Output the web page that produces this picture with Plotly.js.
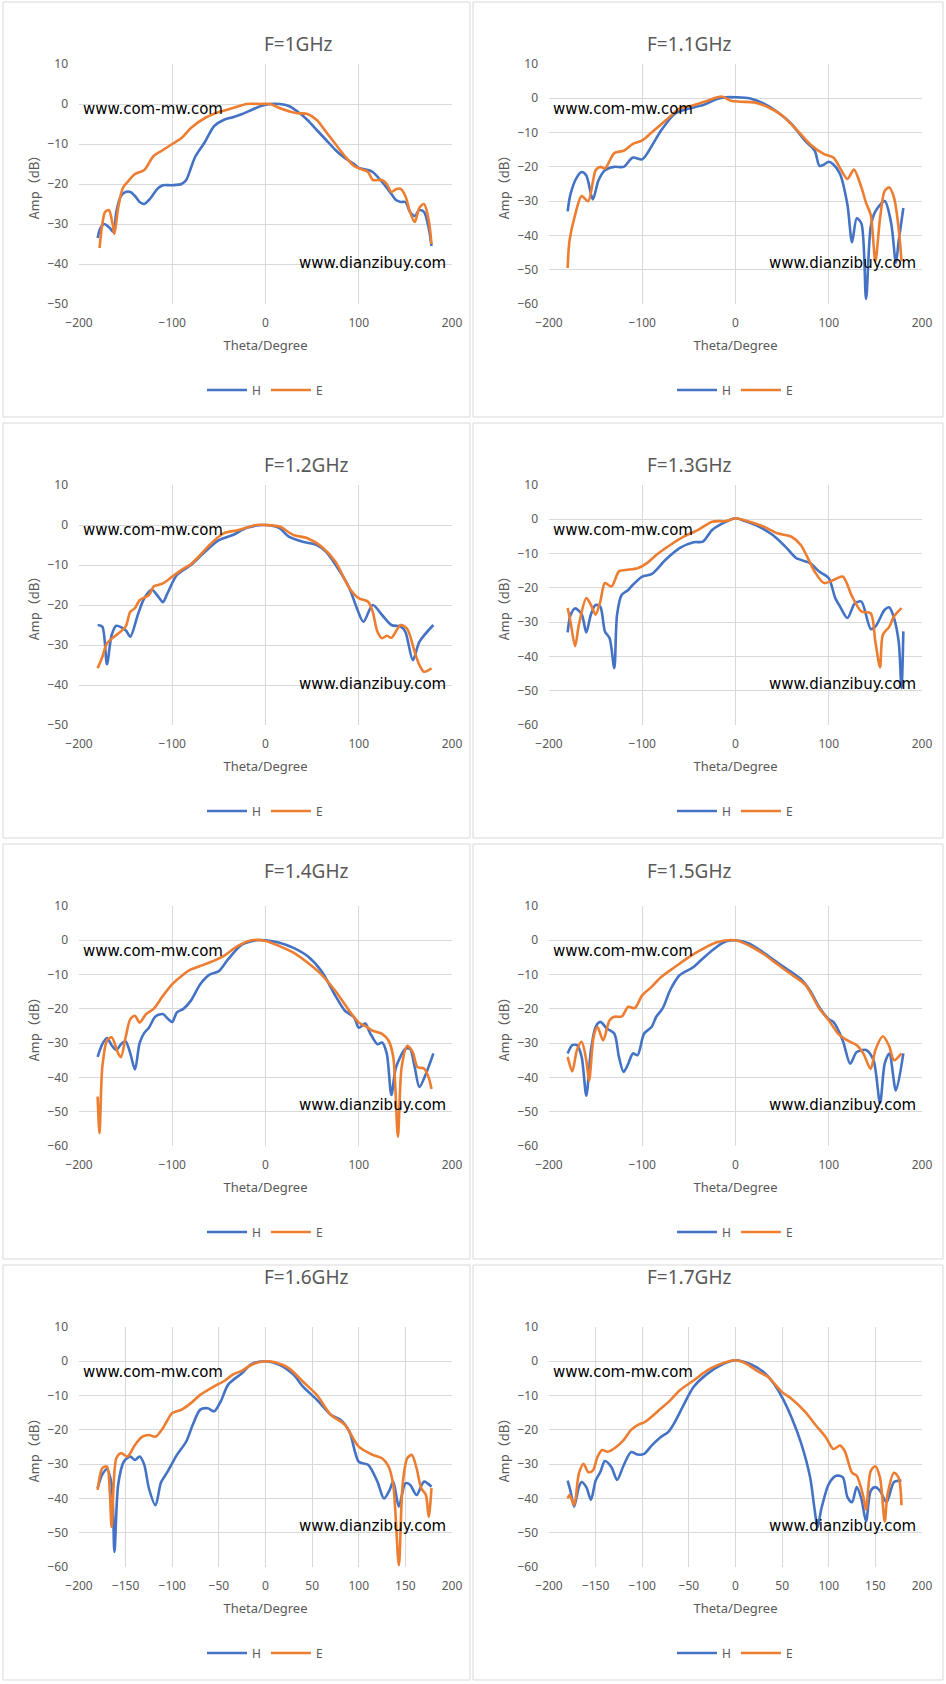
<!DOCTYPE html>
<html>
<head>
<meta charset="utf-8">
<script src="https://cdn.plot.ly/plotly-3.0.1.min.js"></script>
<style>body{margin:0;background:#fff}#plot{width:946px;height:1684px}</style>
</head>
<body>
<div id="plot"></div>
<script>
// panel titles and axis setup
const titles = ['F=1GHz', 'F=1.1GHz', 'F=1.2GHz', 'F=1.3GHz', 'F=1.4GHz', 'F=1.5GHz', 'F=1.6GHz', 'F=1.7GHz'];
const yMins = [-50, -60, -50, -60, -60, -60, -60, -60];
const xSteps = [100, 100, 100, 100, 100, 100, 50, 50];

// F=1GHz
const h1x = [-180,-177,-173,-167,-163,-160,-155,-150,-145,-140,-135,-130,-125,-115,-110,-100,-90,-85,-80,-75,-65,-55,-45,-35,-25,-15,-5,5,15,25,35,45,55,65,75,85,95,100,110,115,125,135,140,145,150,155,160,165,170,175,178];
const h1y = [-33.5,-31,-30,-31,-32,-27,-23,-22,-22,-23,-24.5,-25,-24,-21,-20.3,-20.3,-20,-19,-16,-13,-9.5,-5.5,-4,-3.3,-2.5,-1.5,-0.5,0,0,-0.5,-2,-4,-6.5,-9,-11.5,-13.5,-15,-16,-16.5,-17,-19.5,-22.5,-24,-24.5,-24.5,-27,-28,-26.5,-27,-31,-35.5];
const e1x = [-178,-175,-172,-168,-164,-162,-158,-153,-148,-140,-130,-120,-110,-100,-90,-80,-65,-50,-35,-20,-5,5,15,25,35,45,55,65,75,85,95,105,110,115,125,130,135,140,145,150,155,160,165,170,175,178];
const e1y = [-36,-30,-27,-26.5,-30,-32.5,-26,-21,-19.5,-17.5,-16.5,-13,-11.5,-10,-8.5,-6,-3.5,-2,-1,0,0,0,-1,-1.8,-2.3,-2.5,-4,-7,-10,-13,-15.5,-16.5,-17,-19,-19,-20,-22,-21.3,-21.2,-23,-27,-29.5,-26,-25,-29,-35];

// F=1.1GHz
const h2x = [-180,-177,-170,-165,-160,-153,-147,-140,-130,-120,-110,-100,-90,-80,-65,-50,-35,-20,-10,0,15,30,45,60,75,85,90,95,100,105,112,120,125,130,135,140,145,150,160,167,172,175,180];
const h2y = [-33,-28,-23,-21.5,-22.5,-29.5,-24,-21,-20,-20,-17.3,-17.8,-14,-9.5,-4.5,-3,-2,-0.2,0.3,0.3,0,-1.5,-4,-7.5,-12.5,-15.3,-19.7,-19.3,-18.5,-19.3,-22,-31,-42,-35,-36.5,-58.5,-37.5,-33,-30,-36.5,-48,-41.5,-32];
const e2x = [-180,-178,-172,-165,-158,-150,-145,-140,-130,-120,-110,-100,-90,-75,-60,-45,-30,-15,-5,5,20,35,50,65,80,95,105,112,120,127,135,140,145,150,155,160,165,170,175,178];
const e2y = [-49.5,-41.5,-34,-28.5,-30,-21,-20,-20.5,-16,-15.3,-13.3,-12.3,-10,-6.5,-3,-2,-0.7,0.5,-0.7,-1,-1.2,-2.6,-5,-9,-13.4,-16.3,-17.3,-20.3,-23.5,-20.8,-26,-30.5,-34,-47.5,-35,-27,-26,-29,-38,-47.5];

// F=1.2GHz
const h3x = [-180,-175,-170,-165,-160,-150,-145,-137,-130,-122,-115,-110,-105,-95,-80,-65,-50,-35,-20,0,15,25,40,55,65,80,90,98,105,115,125,135,145,150,158,165,180];
const h3y = [-25,-25.4,-34.8,-27.5,-25.2,-26.3,-27.9,-22.5,-18.3,-16.2,-17.9,-19.3,-17,-12.5,-10,-6.7,-3.8,-2.5,-0.7,0,-0.8,-2.9,-4.2,-5,-6.7,-11.7,-15.8,-20.8,-24.2,-20,-22.5,-25,-25.4,-26.7,-33.8,-29.2,-25];
const e3x = [-180,-175,-170,-160,-150,-145,-140,-135,-125,-120,-110,-100,-90,-80,-70,-60,-45,-30,-10,0,15,30,45,60,75,90,100,110,115,120,125,130,135,145,152,160,165,170,178];
const e3y = [-35.8,-33,-29.6,-27.5,-25.4,-21.7,-20.8,-18.8,-17.5,-15.4,-14.6,-12.9,-11.2,-9.8,-7.5,-5,-2.1,-1.3,0,0,-0.4,-2.5,-3.3,-5.4,-9.2,-15.8,-18.3,-19.2,-21.7,-26.7,-28.3,-27.7,-28.2,-25,-26,-31.7,-35,-36.7,-35.8];

// F=1.3GHz
const h4x = [-180,-177,-172,-165,-160,-155,-150,-145,-140,-135,-130,-127,-122,-115,-110,-100,-90,-75,-60,-45,-35,-25,-10,0,10,25,40,55,65,80,90,100,107,112,120,128,135,145,150,160,165,170,175,178,180];
const h4y = [-33,-28,-26,-27.7,-33,-27.7,-25,-25.5,-32.7,-34.7,-43.4,-27.8,-22,-20.6,-19.1,-16.7,-16,-11.8,-8.4,-6.7,-6.5,-3.1,-0.7,0.3,-0.5,-2.1,-4.6,-8.4,-11.3,-12.8,-15.3,-17.2,-23,-25.4,-28.8,-24.5,-24,-32,-31.3,-26.4,-25.7,-28.8,-35.7,-49.2,-32.7];
const e4x = [-180,-177,-172,-168,-160,-155,-150,-145,-140,-133,-125,-118,-105,-95,-85,-70,-55,-40,-25,-10,0,15,30,45,60,70,85,95,105,115,125,135,145,150,155,158,165,170,178];
const e4y = [-25.9,-29.8,-37,-30.8,-23,-25,-27.8,-24,-18.6,-19.6,-15.2,-14.8,-14.3,-12.8,-10.4,-7.5,-5,-3.1,-0.7,-0.5,0.3,-0.7,-2.1,-4.1,-5.1,-7.5,-15.3,-18.6,-17.7,-16.7,-22.5,-26.9,-27.4,-35.7,-43.2,-33.7,-31.3,-28.3,-25.9];

// F=1.4GHz
const h5x = [-180,-175,-170,-165,-160,-155,-150,-145,-140,-135,-130,-125,-118,-110,-105,-100,-95,-88,-80,-70,-60,-50,-40,-25,-10,0,15,30,45,60,75,85,95,100,107,112,120,125,130,135,140,150,155,160,165,172,180];
const h5y = [-34,-30.3,-28.5,-30.6,-32,-30.3,-29.5,-33,-37.7,-30,-27,-25.5,-22.2,-21.5,-22.8,-23.8,-21,-20,-17.6,-12.8,-10,-9,-5.5,-1.2,0,0,-0.7,-2.2,-4.6,-9,-16.2,-20.5,-22.5,-25.5,-24.3,-27,-30.3,-29.8,-33,-45.1,-37,-31.7,-31.7,-37,-42.8,-39,-33];
const e5x = [-180,-178,-175,-170,-165,-158,-155,-150,-145,-140,-135,-128,-120,-110,-100,-90,-80,-70,-60,-45,-30,-15,0,15,30,45,60,75,90,100,108,115,125,132,137,142,146,152,158,163,170,175,178];
const e5y = [-45.6,-56.3,-37,-29.3,-28.3,-33,-34.1,-28.3,-23,-22,-24,-21.5,-20,-16.2,-12.8,-10.4,-8.5,-7.5,-6.5,-4.6,-1.7,0,-0.2,-1.7,-3.6,-6.5,-10,-14.8,-20.6,-24,-25.2,-26.4,-27.3,-29.3,-34,-57.3,-37,-30.8,-32.7,-37,-37.4,-40,-43.4];

// F=1.5GHz
const h6x = [-180,-175,-170,-165,-160,-155,-150,-145,-138,-130,-125,-120,-115,-110,-105,-98,-90,-85,-78,-70,-60,-45,-35,-20,-10,0,15,30,45,60,70,80,90,100,105,115,123,130,140,148,155,160,165,172,180];
const h6y = [-33,-30.6,-30.6,-34,-45.3,-32,-25.3,-23.8,-25.7,-27.2,-34,-38.4,-36,-33,-33.5,-27.2,-25.3,-22.3,-19.8,-14.5,-10.2,-7.8,-5.3,-1.9,-0.3,0,-1,-3.6,-6.5,-9.3,-11.3,-14.7,-19.6,-23,-23.8,-29.2,-36,-32.6,-32,-35,-47.5,-36,-33,-43.8,-33];
const e6x = [-180,-175,-170,-165,-160,-157,-152,-148,-142,-135,-130,-122,-115,-108,-100,-90,-80,-65,-50,-35,-20,0,15,30,45,60,75,90,100,110,120,130,137,145,150,158,165,170,178];
const e6y = [-34,-38.2,-32,-29.6,-35,-41,-28,-25.3,-29.2,-23.3,-22.3,-22.2,-19.4,-19.8,-16,-13.6,-10.8,-7.8,-4.9,-2.5,-0.6,0,-1.6,-4,-7,-10,-13,-20,-23.3,-27.2,-29.2,-30.6,-33,-37.5,-32,-28,-31,-35,-33];

// F=1.6GHz
const h7x = [-180,-175,-170,-165,-162,-158,-152,-145,-140,-135,-130,-125,-118,-112,-105,-95,-85,-78,-70,-62,-55,-48,-40,-25,-15,0,15,30,40,55,70,80,90,100,110,120,127,133,137,143,150,155,162,170,178];
const h7y = [-37,-33,-31.5,-36,-55.6,-36,-29.3,-27.8,-28.8,-27.8,-30.2,-37.1,-42,-35.3,-32.2,-27.3,-23.4,-18.5,-14.1,-13.7,-14.6,-11.7,-6.8,-3.4,-0.8,0,-1,-3.9,-7.3,-11.2,-15.6,-17,-20.5,-29.3,-30.2,-35.1,-40,-37.6,-35.1,-42.4,-35.6,-36,-39,-35.1,-36.6];
const e7x = [-180,-175,-170,-167,-165,-160,-155,-148,-140,-132,-125,-118,-110,-100,-90,-80,-70,-55,-45,-35,-25,-15,0,10,25,40,55,70,85,100,115,125,132,137,143,147,152,157,162,167,172,175,178];
const e7y = [-37.5,-31.2,-30.7,-38,-48.3,-28.3,-26.8,-27.8,-24.4,-22,-21.5,-22,-19.5,-15.1,-14.1,-12.2,-9.8,-7.3,-5.9,-3.9,-2.7,-1,0,-0.3,-2,-5.9,-9.8,-15.6,-18.5,-24.9,-27.3,-28.3,-30.7,-36.1,-59.5,-36.1,-28.3,-27.3,-31.2,-37,-39,-45.4,-37];

// F=1.7GHz
const h8x = [-180,-177,-173,-168,-165,-160,-155,-150,-145,-140,-133,-127,-120,-112,-105,-98,-90,-80,-72,-65,-55,-45,-30,-15,0,15,30,40,50,60,70,80,85,88,92,100,108,115,120,125,130,135,140,145,150,155,162,170,178];
const h8y = [-34.8,-37.8,-42.4,-36.7,-35.2,-36.7,-40.4,-34.8,-32.3,-29.1,-30.9,-34.6,-30.4,-26.5,-27.2,-27,-24.6,-22.1,-20.6,-17.7,-12.4,-7.5,-3.6,-1,0.3,-0.7,-3.1,-6.1,-10.5,-16.3,-23.6,-33.8,-43.6,-48.5,-43.1,-35.8,-33.4,-33.8,-39.6,-41.1,-36.7,-40.1,-46.7,-37.8,-36.7,-37.8,-41.1,-35.2,-34.8];
const e8x = [-180,-178,-173,-168,-163,-158,-153,-148,-143,-137,-128,-120,-112,-105,-97,-90,-80,-70,-60,-45,-30,-20,0,10,25,35,50,60,75,85,97,105,112,117,125,130,137,140,145,150,155,160,163,170,175,178];
const e8y = [-40,-39,-41.9,-32.8,-29.9,-32.3,-31.9,-27.9,-25.9,-26.4,-25,-23,-20,-18.6,-17.7,-16.2,-13.8,-11.4,-8.5,-5.6,-2.6,-1.2,0.3,-0.5,-3.1,-4.6,-9,-10.9,-14.8,-18.3,-22.2,-25.6,-24.6,-26.1,-32.5,-33.4,-39.3,-43.2,-32,-30.6,-34,-46.7,-38.9,-32.5,-34,-42];

const hX = [h1x, h2x, h3x, h4x, h5x, h6x, h7x, h8x];
const hY = [h1y, h2y, h3y, h4y, h5y, h6y, h7y, h8y];
const eX = [e1x, e2x, e3x, e4x, e5x, e6x, e7x, e8x];
const eY = [e1y, e2y, e3y, e4y, e5y, e6y, e7y, e8y];

const W = 946, H = 1684;
const px = (v) => v / W;
const py = (v) => 1 - v / H;
const blue = '#4472C4', orange = '#ED7D31';
const grey = '#595959';

let data = [];
let layout = {
    width: W, height: H,
    margin: {l: 0, r: 0, t: 0, b: 0},
    paper_bgcolor: '#fff', plot_bgcolor: '#fff',
    font: {family: 'Noto Sans, sans-serif', color: grey, size: 12},
    shapes: [], annotations: []
};

for (let i = 0; i < 8; i++) {
    const col = i % 2, row = Math.floor(i / 2);
    const boxL = col === 0 ? 3 : 473;
    const boxR = col === 0 ? 470 : 943;
    const boxT = 2 + row * 421;
    const boxB = boxT + 415;
    const plotL = boxL + 76, plotR = plotL + 373;
    const plotT = boxT + 62, plotB = plotT + 240;
    const n = i + 1;
    const sx = n === 1 ? '' : String(n);
    const leg = n === 1 ? 'legend' : 'legend' + n;

    data.push({x: hX[i], y: hY[i], name: 'H', type: 'scatter', mode: 'lines',
        line: {color: blue, width: 2.6, shape: 'spline', smoothing: 0.8},
        xaxis: 'x' + sx, yaxis: 'y' + sx, legend: leg});
    data.push({x: eX[i], y: eY[i], name: 'E', type: 'scatter', mode: 'lines',
        line: {color: orange, width: 2.6, shape: 'spline', smoothing: 0.8},
        xaxis: 'x' + sx, yaxis: 'y' + sx, legend: leg});

    layout['xaxis' + sx] = {
        domain: [px(plotL), px(plotR)], anchor: 'y' + sx,
        range: [-200, 200], dtick: xSteps[i], tick0: -200,
        showgrid: true, gridcolor: '#d9d9d9', zeroline: true, zerolinecolor: '#d9d9d9',
        showline: false, ticks: '', ticklabelstandoff: 10, tickfont: {size: 12, color: grey},
        title: {text: 'Theta/Degree', font: {size: 13, color: grey}, standoff: 10}
    };
    layout['yaxis' + sx] = {
        domain: [py(plotB), py(plotT)], anchor: 'x' + sx,
        range: [yMins[i], 10], dtick: 10,
        showgrid: true, gridcolor: '#d9d9d9', zeroline: false,
        showline: false, ticks: '', ticklabelstandoff: 10, tickfont: {size: 12, color: grey},
        title: {text: 'Amp（dB）', font: {size: 13, color: grey, family: 'Noto Sans CJK SC'}, standoff: 4}
    };
    layout[leg] = {
        orientation: 'h', x: px(boxL + 262), y: py(boxT + 388),
        xanchor: 'center', yanchor: 'middle',
        font: {size: 12, color: grey}, itemwidth: 40, bgcolor: 'rgba(0,0,0,0)',
        tracegroupgap: 0
    };
    layout.shapes.push({type: 'rect', xref: 'paper', yref: 'paper',
        x0: px(boxL), x1: px(boxR), y0: py(boxB), y1: py(boxT),
        line: {color: '#d9d9d9', width: 1}});
    layout.annotations.push({text: titles[i], xref: 'paper', yref: 'paper',
        x: px((boxL + boxR) / 2 + 25), y: py(boxT + 27), showarrow: false,
        font: {size: 19, color: grey}});
    layout.annotations.push({text: 'www.com-mw.com', xref: 'x' + sx + ' domain', yref: 'y' + sx + ' domain',
        x: 0.005, y: 0.86, xanchor: 'left', showarrow: false,
        font: {size: 15, color: '#000', family: 'DejaVu Sans'}});
    layout.annotations.push({text: 'www.dianzibuy.com', xref: 'x' + sx + ' domain', yref: 'y' + sx + ' domain',
        x: 0.99, y: 0.125, xanchor: 'right', showarrow: false,
        font: {size: 15, color: '#000', family: 'DejaVu Sans'}});
}

Plotly.newPlot('plot', data, layout, {staticPlot: true});
</script>
</body>
</html>
